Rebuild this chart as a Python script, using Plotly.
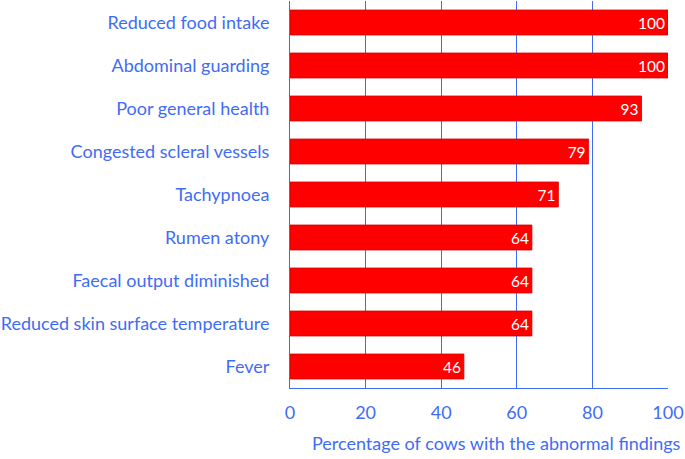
import plotly.graph_objects as go

findings = [
    "Reduced food intake",
    "Abdominal guarding",
    "Poor general health",
    "Congested scleral vessels",
    "Tachypnoea",
    "Rumen atony",
    "Faecal output diminished",
    "Reduced skin surface temperature",
    "Fever",
]
percentages = [100, 100, 93, 79, 71, 64, 64, 64, 46]

blue = "#3f6cf5"

fig = go.Figure()
fig.add_trace(
    go.Bar(
        x=percentages,
        y=findings,
        orientation="h",
        marker=dict(color="#ff0000", line=dict(color="#d40000", width=0.8)),
        text=[str(v) for v in percentages],
        textposition="inside",
        insidetextanchor="end",
        textangle=0,
        textfont=dict(color="white", size=18, family="Lato, sans-serif"),
        width=0.58,
        hoverinfo="skip",
    )
)

fig.update_xaxes(
    range=[0, 100],
    tickvals=[0, 20, 40, 60, 80, 100],
    showgrid=True,
    gridcolor=blue,
    gridwidth=1,
    showline=True,
    linecolor=blue,
    linewidth=1,
    zeroline=False,
    tickfont=dict(color=blue, size=18),
    ticks="",
    ticklabelstandoff=8,
)
fig.update_yaxes(
    autorange="reversed",
    showline=True,
    linecolor=blue,
    linewidth=1,
    showgrid=False,
    tickfont=dict(color=blue, size=18),
    ticks="",
    ticklabelstandoff=16,
)

# axis title sits right-aligned near the page edge, as in the original
fig.add_annotation(
    text="Percentage of cows with the abnormal findings",
    xref="paper", yref="paper",
    x=1.04, y=-0.142,
    xanchor="right", yanchor="middle",
    showarrow=False,
    font=dict(color=blue, size=18),
)

fig.update_layout(
    width=685,
    height=459,
    margin=dict(l=290, r=17, t=1, b=71, autoexpand=False),
    plot_bgcolor="white",
    paper_bgcolor="white",
    font=dict(family="Lato, sans-serif", color=blue),
    showlegend=False,
)

fig.write_html(
    "out.html",
    config={"displayModeBar": False},
    post_script="document.body.style.margin='0';",
)
